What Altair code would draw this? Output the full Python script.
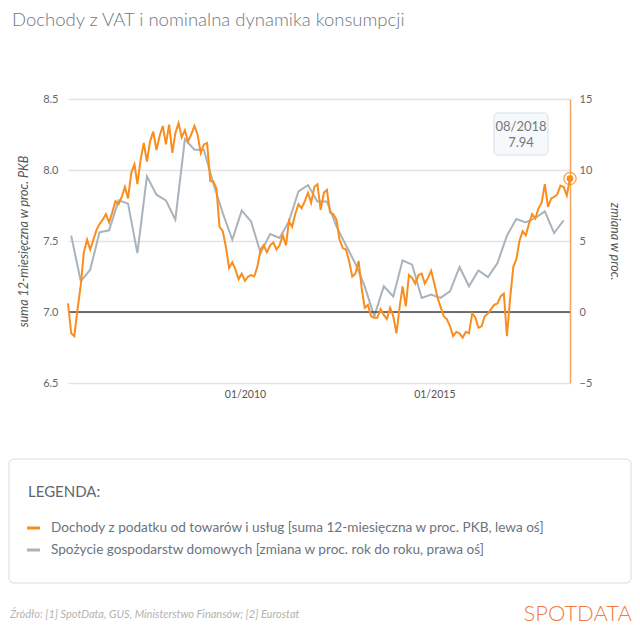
import pandas as pd
import altair as alt

# VAT revenue, 12-month sum in % of GDP, monthly from 05/2005 (left axis)
vat_start = "2005-05-01"
vat_values = [
    7.06, 6.85, 6.83, 7.02, 7.19, 7.42, 7.51, 7.44, 7.51, 7.58,
    7.62, 7.65, 7.69, 7.63, 7.70, 7.78, 7.76, 7.81, 7.88, 7.80,
    7.98, 8.04, 7.90, 8.07, 8.19, 8.06, 8.20, 8.27, 8.14, 8.24,
    8.31, 8.18, 8.32, 8.12, 8.26, 8.33, 8.23, 8.28, 8.20, 8.25,
    8.31, 8.25, 8.12, 8.18, 8.19, 7.92, 7.92, 7.87, 7.60, 7.57,
    7.46, 7.31, 7.35, 7.30, 7.23, 7.27, 7.22, 7.25, 7.26, 7.25,
    7.32, 7.44, 7.47, 7.42, 7.47, 7.49, 7.44, 7.47, 7.54, 7.47,
    7.64, 7.60, 7.69, 7.76, 7.73, 7.78, 7.84, 7.77, 7.88, 7.90,
    7.72, 7.84, 7.86, 7.70, 7.69, 7.65, 7.51, 7.45, 7.44, 7.36,
    7.25, 7.27, 7.36, 7.16, 7.03, 7.05, 6.97, 6.96, 6.96, 7.02,
    6.98, 6.95, 7.03, 6.97, 6.85, 7.04, 7.18, 7.04, 7.26, 7.24,
    7.20, 7.26, 7.27, 7.20, 7.24, 7.29, 7.20, 7.10, 7.04, 6.97,
    6.95, 6.90, 6.83, 6.86, 6.85, 6.82, 6.86, 6.85, 6.99, 6.96,
    6.89, 6.90, 6.97, 6.99, 7.02, 7.05, 7.06, 7.11, 7.13, 6.83,
    7.10, 7.32, 7.37, 7.50, 7.57, 7.54, 7.62, 7.69, 7.66, 7.73,
    7.77, 7.90, 7.74, 7.80, 7.81, 7.83, 7.89, 7.88, 7.82, 7.94,
]

# household consumption, % change y/y, quarterly from Q2 2005 (right axis)
cons_start = "2005-06-01"
cons_values = [
    5.38, 2.16, 2.98, 5.61, 5.75, 7.86, 7.63, 4.15, 9.55, 8.26,
    7.86, 6.50, 12.18, 11.43, 11.43, 9.08, 6.97, 5.09, 7.14, 6.38,
    4.15, 5.49, 5.21, 6.38, 8.50, 8.94, 7.79, 7.79, 6.03, 4.70,
    3.40, 1.80, -0.31, 1.81, 1.10, 3.64, 3.33, 0.99, 1.22, 0.99,
    1.46, 3.17, 1.81, 2.93, 2.46, 3.45, 5.38, 6.55, 6.31, 6.62,
    7.09, 5.56, 6.46,
]

left_ticks = [6.5, 7.0, 7.5, 8.0, 8.5]
right_ticks = [-5, 0, 5, 10, 15]
x_tick_years = [2010, 2015]

vat = pd.DataFrame({
    "date": pd.date_range(vat_start, periods=len(vat_values), freq="MS"),
    "vat": vat_values,
})
cons = pd.DataFrame({
    "date": pd.date_range(cons_start, periods=len(cons_values), freq="3MS"),
    "cons": cons_values,
})
last = vat.tail(1)
dummy = pd.DataFrame({"k": [0]})

ORANGE = "#f98e1e"
GREY = "#a9b3bb"
FONT = "Lato"

x_enc = alt.X(
    "date:T",
    title=None,
    scale=alt.Scale(nice=False, padding=0),
    axis=alt.Axis(
        values=[alt.DateTime(year=y, month=1, date=1) for y in x_tick_years],
        format="%m/%Y", domain=False, ticks=False, grid=False,
        labelPadding=6, labelFontSize=10.5, labelColor="#555",
    ),
)

left_axis = alt.Axis(
    orient="left", values=left_ticks, format=".1f",
    grid=True, gridColor="#e3e3e3", gridWidth=1.5,
    domain=False, ticks=False, labelPadding=10,
    labelFontSize=11, labelColor="#666",
    title="suma 12-miesięczna w proc. PKB",
    titleFontStyle="italic", titleFontWeight="normal", titleFontSize=12.5,
    titleColor="#555", titlePadding=12,
)
left_scale = alt.Scale(domain=[6.5, 8.5])

zero_line = alt.Chart(dummy).mark_rule(color="#444", strokeWidth=1.5).encode(
    y=alt.Y(datum=7.0, scale=left_scale, axis=left_axis)
)

vat_line = alt.Chart(vat).mark_line(color=ORANGE, strokeWidth=2).encode(
    x=x_enc,
    y=alt.Y("vat:Q", scale=left_scale, axis=left_axis),
)

halo = alt.Chart(last).mark_point(
    filled=False, color=ORANGE, size=150, strokeWidth=1.3, opacity=0.8
).encode(x=x_enc, y=alt.Y("vat:Q", scale=left_scale, axis=left_axis))

dot = alt.Chart(last).mark_point(
    filled=True, color=ORANGE, size=45, opacity=1
).encode(x=x_enc, y=alt.Y("vat:Q", scale=left_scale, axis=left_axis))

left_group = alt.layer(zero_line, vat_line, halo, dot)

cons_line = alt.Chart(cons).mark_line(color=GREY, strokeWidth=2).encode(
    x=x_enc,
    y=alt.Y(
        "cons:Q",
        scale=alt.Scale(domain=[-5, 15]),
        axis=alt.Axis(
            orient="right", values=right_ticks, grid=False,
            domain=True, domainColor="#f6a466", domainWidth=1.5,
            ticks=False, labelPadding=9, labelFontSize=11, labelColor="#666",
            title="zmiana w proc.", titleFontStyle="italic",
            titleFontWeight="normal", titleFontSize=12.5, titleColor="#555",
            titlePadding=16,
        ),
    ),
)

# tooltip-like box at the last point
tip_box = alt.Chart(dummy).mark_rect(
    fill="#f6f9fc", stroke="#d6e0ea", strokeWidth=1, cornerRadius=4
).encode(x=alt.value(426), x2=alt.value(480), y=alt.value(14), y2=alt.value(56))

tip_date = alt.Chart(last).mark_text(
    font=FONT, fontSize=13, color="#777", dx=-49
).encode(x=x_enc, y=alt.value(28), text=alt.Text("date:T", format="%m/%Y"))

tip_val = alt.Chart(last).mark_text(
    font=FONT, fontSize=13, color="#777", dx=-49
).encode(x=x_enc, y=alt.value(44), text=alt.Text("vat:Q", format=".2f"))

# title, legend box and footer
title = alt.Chart(dummy).mark_text(
    font=FONT, fontSize=18.5, fontWeight=300, color="#6f7780",
    align="left", baseline="alphabetic",
).encode(x=alt.value(-56), y=alt.value(-73),
         text=alt.value("Dochody z VAT i nominalna dynamika konsumpcji"))

legend_box = alt.Chart(dummy).mark_rect(
    fill="white", stroke="#e8e8e8", strokeWidth=1.5, cornerRadius=5
).encode(x=alt.value(-59), x2=alt.value(563), y=alt.value(360), y2=alt.value(484))

legend_head = alt.Chart(dummy).mark_text(
    font=FONT, fontSize=15, color="#5d6670", align="left", baseline="middle"
).encode(x=alt.value(-40), y=alt.value(393), text=alt.value("LEGENDA:"))

legend_orange = alt.Chart(dummy).mark_rule(color=ORANGE, strokeWidth=3).encode(
    x=alt.value(-41), x2=alt.value(-28), y=alt.value(429)
)
legend_grey = alt.Chart(dummy).mark_rule(color=GREY, strokeWidth=3).encode(
    x=alt.value(-41), x2=alt.value(-28), y=alt.value(451)
)
legend_t1 = alt.Chart(dummy).mark_text(
    font=FONT, fontSize=13.6, color="#6b7480", align="left", baseline="middle"
).encode(x=alt.value(-17), y=alt.value(429), text=alt.value(
    "Dochody z podatku od towarów i usług [suma 12-miesięczna w proc. PKB, lewa oś]"))
legend_t2 = alt.Chart(dummy).mark_text(
    font=FONT, fontSize=13.6, color="#6b7480", align="left", baseline="middle"
).encode(x=alt.value(-17), y=alt.value(451), text=alt.value(
    "Spożycie gospodarstw domowych [zmiana w proc. rok do roku, prawa oś]"))

source = alt.Chart(dummy).mark_text(
    font=FONT, fontSize=11, fontStyle="italic", color="#b3b3b3",
    align="left", baseline="middle",
).encode(x=alt.value(-58), y=alt.value(516), text=alt.value(
    "Źródło: [1] SpotData, GUS, Ministerstwo Finansów; [2] Eurostat"))

logo = alt.Chart(dummy).mark_text(
    font=FONT, fontSize=22, fontWeight=300, color="#f07c40",
    align="right", baseline="middle",
).encode(x=alt.value(564), y=alt.value(515), text=alt.value("SPOTDATA"))

chart = (
    alt.layer(
        cons_line, left_group,
        tip_box, tip_date, tip_val,
        title, legend_box, legend_head, legend_orange, legend_grey,
        legend_t1, legend_t2, source, logo,
    )
    .resolve_scale(y="independent")
    .properties(
        width=502, height=284,
        autosize=alt.AutoSizeParams(type="none"),
        padding={"left": 60, "top": 91, "right": 62, "bottom": 249},
    )
    .configure_view(strokeWidth=0)
    .configure_axis(labelFont=FONT, titleFont=FONT)
)

chart.save("out.html", embed_options={"renderer": "svg", "actions": False})
